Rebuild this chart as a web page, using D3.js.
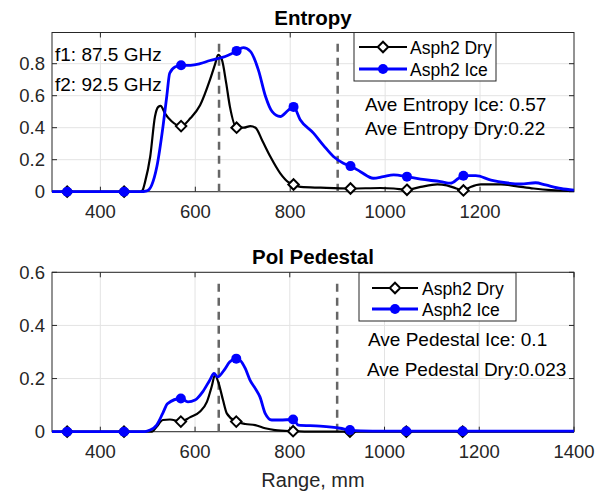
<!DOCTYPE html>
<html>
<head>
<meta charset="utf-8">
<script src="https://cdn.jsdelivr.net/npm/d3@7"></script>
<style>
  body { margin: 0; background: #fff; }
  svg { font-family: "Liberation Sans", Arial, sans-serif; }
</style>
</head>
<body>
<script>
// Range positions (mm) and values
var entropyIce = [[298,0],[330,0],[450,0],[484,0],[498,0.005],[508,0.04],[519,0.157],[532,0.41],[540,0.6],[546,0.74],[557,0.78],[570,0.79],[590,0.79],[610,0.80],[631,0.82],[645,0.83],[663,0.845],[675,0.86],[687,0.88],[701,0.90],[716,0.877],[733,0.76],[748,0.595],[762,0.50],[779,0.47],[796,0.51],[807,0.53],[821,0.45],[849,0.366],[870,0.29],[891,0.22],[912,0.178],[927,0.16],[948,0.125],[975,0.084],[996,0.094],[1018,0.105],[1046,0.094],[1075,0.078],[1117,0.063],[1138,0.053],[1155,0.084],[1165,0.10],[1191,0.10],[1223,0.073],[1254,0.056],[1286,0.048],[1317,0.056],[1338,0.042],[1370,0.02],[1398,0.01]];
var entropyDry = [[298,0],[330,0],[450,0],[484,0],[489,0.01],[494,0.06],[505,0.22],[515,0.47],[522,0.53],[527,0.537],[536,0.49],[550,0.44],[570,0.41],[590,0.46],[610,0.54],[631,0.70],[642,0.80],[648,0.856],[656,0.825],[665,0.68],[673,0.53],[687,0.40],[702,0.40],[716,0.41],[727,0.40],[741,0.32],[758,0.22],[779,0.115],[796,0.06],[807,0.045],[822,0.03],[864,0.025],[927,0.02],[990,0.023],[1018,0.02],[1046,0.012],[1075,0.03],[1110,0.046],[1130,0.04],[1150,0.02],[1165,0.008],[1180,0.03],[1202,0.046],[1244,0.046],[1275,0.035],[1313,0.02],[1350,0.01],[1398,0.005]];
var pedestalIce = [[298,0],[330,0],[450,0],[494,0],[505,0.006],[519,0.025],[532,0.07],[542,0.106],[570,0.125],[585,0.112],[600,0.119],[616,0.15],[631,0.194],[640,0.219],[648,0.206],[661,0.231],[673,0.262],[687,0.275],[695,0.269],[706,0.238],[716,0.194],[727,0.163],[737,0.131],[748,0.069],[762,0.044],[779,0.044],[807,0.046],[818,0.025],[864,0.021],[906,0.013],[927,0.006],[950,0.003],[1000,0.002],[1400,0.002]];
var pedestalDry = [[298,0],[330,0],[450,0],[509,0],[519,0.019],[532,0.044],[547,0.046],[570,0.038],[589,0.054],[610,0.075],[625,0.112],[635,0.169],[642,0.213],[650,0.181],[659,0.119],[667,0.069],[687,0.038],[706,0.029],[727,0.025],[748,0.013],[769,0.006],[807,0.002],[850,0],[1400,0]];

// Marker positions and values
var markRange = [330, 450, 570, 687, 807, 927, 1046, 1165];
var entropyDryMarks = [0, 0, 0.41, 0.40, 0.045, 0.02, 0.012, 0.008];
var entropyIceMarks = [0, 0, 0.79, 0.88, 0.53, 0.16, 0.094, 0.10];
var pedestalDryMarks = [0, 0, 0.038, 0.038, 0.002, 0, 0, 0];
var pedestalIceMarks = [0, 0, 0.125, 0.275, 0.046, 0.006, 0.002, 0.002];

var cutLines = [650, 900];
var seriesNames = ["Asph2 Dry", "Asph2 Ice"];

var width = 614, height = 493;
var svg = d3.select("body").append("svg")
    .attr("width", width)
    .attr("height", height);

var axisColor = "#262626";

function drawPanel(opt) {
    var x = d3.scaleLinear().domain(opt.xDomain).range([52, 574]);
    var y = d3.scaleLinear().domain(opt.yDomain).range([opt.bottom, opt.top]);
    var g = svg.append("g");

    // grid
    g.selectAll(".gx").data(opt.xTicks).enter().append("line")
        .attr("x1", d => x(d)).attr("x2", d => x(d))
        .attr("y1", opt.top).attr("y2", opt.bottom)
        .attr("stroke", "#e3e3e3").attr("stroke-width", 1);
    g.selectAll(".gy").data(opt.yTicks).enter().append("line")
        .attr("x1", 52).attr("x2", 574)
        .attr("y1", d => y(d)).attr("y2", d => y(d))
        .attr("stroke", "#e3e3e3").attr("stroke-width", 1);

    // axes box
    g.append("rect")
        .attr("x", 52).attr("y", opt.top)
        .attr("width", 522).attr("height", opt.bottom - opt.top)
        .attr("fill", "none").attr("stroke", axisColor).attr("stroke-width", 1);

    // inward ticks on all sides
    opt.xTicks.forEach(function(t) {
        g.append("line").attr("x1", x(t)).attr("x2", x(t)).attr("y1", opt.bottom).attr("y2", opt.bottom - 5).attr("stroke", axisColor);
        g.append("line").attr("x1", x(t)).attr("x2", x(t)).attr("y1", opt.top).attr("y2", opt.top + 5).attr("stroke", axisColor);
    });
    opt.yTicks.forEach(function(t) {
        g.append("line").attr("x1", 52).attr("x2", 57).attr("y1", y(t)).attr("y2", y(t)).attr("stroke", axisColor);
        g.append("line").attr("x1", 574).attr("x2", 569).attr("y1", y(t)).attr("y2", y(t)).attr("stroke", axisColor);
    });

    // tick labels
    g.selectAll(".tx").data(opt.xTicks).enter().append("text")
        .attr("x", d => x(d)).attr("y", opt.bottom + 26)
        .attr("text-anchor", "middle").attr("font-size", 18.5).attr("fill", axisColor)
        .text(d => d);
    g.selectAll(".ty").data(opt.yTicks).enter().append("text")
        .attr("x", 45).attr("y", d => y(d) + 6.5)
        .attr("text-anchor", "end").attr("font-size", 18.5).attr("fill", axisColor)
        .text(d => d);

    // title
    g.append("text").attr("x", 313).attr("y", opt.top - 8)
        .attr("text-anchor", "middle").attr("font-size", 20.5).attr("font-weight", "bold")
        .attr("fill", "#000").text(opt.title);

    var line = d3.line().x(d => x(d[0])).y(d => y(d[1])).curve(d3.curveMonotoneX);

    // dashed range lines
    var dashTop = opt.yDomain[1] * 0.95;
    g.selectAll(".cut").data(cutLines).enter().append("line")
        .attr("x1", d => x(d)).attr("x2", d => x(d))
        .attr("y1", y(0)).attr("y2", y(dashTop))
        .attr("stroke", "#666").attr("stroke-width", 2.5)
        .attr("stroke-dasharray", "8,6");

    // dry curve + diamonds
    g.append("path").datum(opt.dry).attr("d", line)
        .attr("fill", "none").attr("stroke", "#000").attr("stroke-width", 2.2);
    g.selectAll(".dm").data(markRange).enter().append("path")
        .attr("d", d3.symbol().type(d3.symbolDiamond2).size(70))
        .attr("transform", (d, i) => "translate(" + x(d) + "," + y(opt.dryMarks[i]) + ")")
        .attr("fill", "#fff").attr("stroke", "#000").attr("stroke-width", 2);

    // ice curve + dots
    g.append("path").datum(opt.ice).attr("d", line)
        .attr("fill", "none").attr("stroke", "#0000ff").attr("stroke-width", 2.8);
    g.selectAll(".im").data(markRange).enter().append("circle")
        .attr("cx", d => x(d)).attr("cy", (d, i) => y(opt.iceMarks[i]))
        .attr("r", 5).attr("fill", "#0000ff");

    // legend
    var L = opt.legend;
    g.append("rect").attr("x", L.x0).attr("y", L.y0)
        .attr("width", L.x1 - L.x0).attr("height", L.y1 - L.y0)
        .attr("fill", "#fff").attr("stroke", axisColor).attr("stroke-width", 1);
    seriesNames.forEach(function(name, i) {
        var ry = L.rows[i];
        var c = i === 0 ? "#000" : "#0000ff";
        g.append("line").attr("x1", L.lx0).attr("x2", L.lx1).attr("y1", ry).attr("y2", ry)
            .attr("stroke", c).attr("stroke-width", i === 0 ? 2.2 : 2.8);
        var mx = (L.lx0 + L.lx1) / 2;
        if (i === 0) {
            g.append("path").attr("d", d3.symbol().type(d3.symbolDiamond2).size(70))
                .attr("transform", "translate(" + mx + "," + ry + ")")
                .attr("fill", "#fff").attr("stroke", "#000").attr("stroke-width", 2);
        } else {
            g.append("circle").attr("cx", mx).attr("cy", ry).attr("r", 5).attr("fill", c);
        }
        g.append("text").attr("x", L.tx).attr("y", ry + 6.5)
            .attr("font-size", 17.5).attr("fill", "#000").text(name);
    });

    // annotations
    opt.notes.forEach(function(n) {
        g.append("text").attr("x", n[0]).attr("y", n[1])
            .attr("font-size", 19).attr("fill", "#000").text(n[2]);
    });
}

drawPanel({
    title: "Entropy",
    top: 32.5, bottom: 191.7,
    xDomain: [298, 1398], yDomain: [0, 0.995],
    xTicks: [400, 600, 800, 1000, 1200],
    yTicks: [0, 0.2, 0.4, 0.6, 0.8],
    dry: entropyDry, ice: entropyIce,
    dryMarks: entropyDryMarks, iceMarks: entropyIceMarks,
    legend: { x0: 354, x1: 496, y0: 32.5, y1: 81, lx0: 359, lx1: 407, tx: 410, rows: [47, 69] },
    notes: [[55, 61, "f1: 87.5 GHz"], [55, 91, "f2: 92.5 GHz"],
            [365, 111, "Ave Entropy Ice: 0.57"], [365, 135, "Ave Entropy Dry:0.22"]]
});

drawPanel({
    title: "Pol Pedestal",
    top: 272.3, bottom: 431.7,
    xDomain: [298, 1400], yDomain: [0, 0.6],
    xTicks: [400, 600, 800, 1000, 1200, 1400],
    yTicks: [0, 0.2, 0.4, 0.6],
    dry: pedestalDry, ice: pedestalIce,
    dryMarks: pedestalDryMarks, iceMarks: pedestalIceMarks,
    legend: { x0: 359, x1: 516, y0: 272.7, y1: 321, lx0: 372, lx1: 418, tx: 422, rows: [288, 309] },
    notes: [[368, 346, "Ave Pedestal Ice: 0.1"], [367, 376, "Ave Pedestal Dry:0.023"]]
});

// x label
svg.append("text").attr("x", 313).attr("y", 487)
    .attr("text-anchor", "middle").attr("font-size", 20).attr("fill", axisColor)
    .text("Range, mm");
</script>
</body>
</html>
